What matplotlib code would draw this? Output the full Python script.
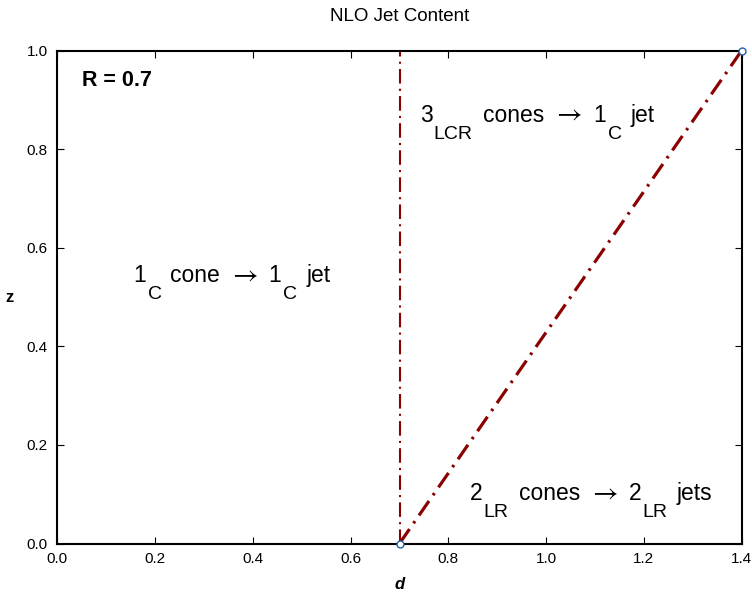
import matplotlib
matplotlib.use("Agg")
import matplotlib.pyplot as plt

plt.rcParams["font.family"] = ["Liberation Sans", "DejaVu Sans"]

# boundary lines in the (d, z) plane for R = 0.7
R = 0.7
vert_d = [R, R]
vert_z = [0.0, 1.0]
diag_d = [R, 2 * R]
diag_z = [0.0, 1.0]
end_d = [R, 2 * R]
end_z = [0.0, 1.0]

x_ticks = [0.0, 0.2, 0.4, 0.6, 0.8, 1.0, 1.2, 1.4]
y_ticks = [0.0, 0.2, 0.4, 0.6, 0.8, 1.0]

# region labels: (d, z of baseline, [(piece, kind, gap before in px), ...])
regions = [
    (0.155, 0.530, [("1", "main", 0), ("C", "sub", 2), ("cone", "main", 8),
                    ("\u2192", "arrow", 12), ("1", "main", 11), ("C", "sub", 2),
                    ("jet", "main", 9)]),
    (0.742, 0.855, [("3", "main", 0), ("LCR", "sub", 1), ("cones", "main", 10),
                    ("\u2192", "arrow", 12), ("1", "main", 11), ("C", "sub", 2),
                    ("jet", "main", 9)]),
    (0.844, 0.088, [("2", "main", 0), ("LR", "sub", 1), ("cones", "main", 10),
                    ("\u2192", "arrow", 12), ("2", "main", 11), ("LR", "sub", 1),
                    ("jets", "main", 9)]),
]

STYLE = {
    "main": dict(fontsize=16.5),
    "sub": dict(fontsize=14),
    "arrow": dict(fontsize=20, family="STIXGeneral"),
}
SUB_DROP = 12  # points below the main baseline


def label_with_subs(ax, x, y, pieces):
    prev = None
    for s, kind, gap in pieces:
        dy = -SUB_DROP if kind == "sub" else 0
        if prev is None:
            prev = ax.text(x, y, s, va="baseline", ha="left", **STYLE[kind])
            continue
        prev = ax.annotate(s, xy=(1, y), xycoords=(prev, "data"),
                           xytext=(gap * 0.72, dy), textcoords="offset points",
                           va="baseline", ha="left", **STYLE[kind])


fig = plt.figure(figsize=(7.52, 5.92), dpi=100)
ax = fig.add_axes([57.3 / 752, 48.5 / 592, 684.4 / 752, 493 / 592])

line_color = "#8b0000"
ax.plot(vert_d, vert_z, color=line_color, lw=1.5, ls="-.", dashes=(7, 2.5, 1, 2.5))
ax.plot(diag_d, diag_z, color=line_color, lw=2.3, ls="-.", dashes=(5.5, 2.2, 0.8, 2.2))
ax.plot(end_d, end_z, "o", ms=5, mfc="white", mec="#2060a8", mew=1.0,
        clip_on=False, zorder=5)

for x, y, pieces in regions:
    label_with_subs(ax, x, y, pieces)

ax.text(0.051, 0.94, "R = 0.7", fontsize=15.5, fontweight="bold", va="center")

ax.set_xlim(0, 1.4)
ax.set_ylim(0, 1.0)
ax.set_xticks(x_ticks)
ax.set_yticks(y_ticks)
ax.set_xticklabels([f"{v:.1f}" for v in x_ticks])
ax.set_yticklabels([f"{v:.1f}" for v in y_ticks])
ax.tick_params(direction="in", top=True, right=True, length=5, width=0.8,
               labelsize=11)
ax.tick_params(axis="x", pad=6)
ax.tick_params(axis="y", pad=7)
for sp in ax.spines.values():
    sp.set_linewidth(1.5)

ax.set_xlabel("d", fontsize=12, fontweight="bold", style="italic", labelpad=8)
ax.set_ylabel("z", fontsize=12, fontweight="bold", rotation=0, labelpad=12,
              va="center")
ax.set_title("NLO Jet Content", fontsize=13.5, pad=21)

fig.savefig("out.png", dpi=100)
